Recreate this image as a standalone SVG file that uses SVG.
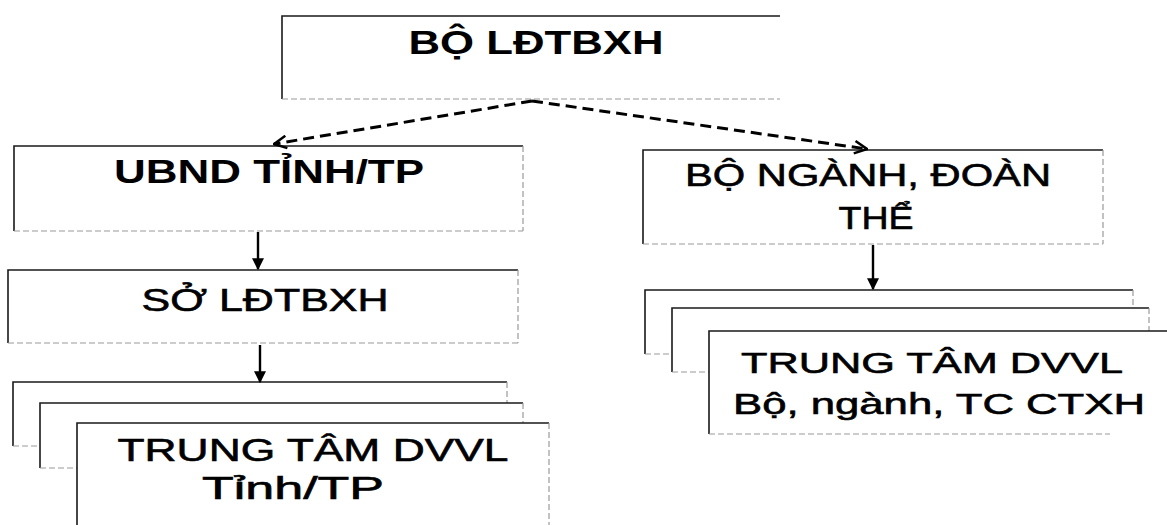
<svg xmlns="http://www.w3.org/2000/svg" width="1167" height="525" viewBox="0 0 1167 525">
<defs>
<style>
.box{fill:#fff;stroke:none}
.edge{fill:none;stroke:#1a1a1a;stroke-width:1.6}
.faint{fill:none;stroke:#9a9a9a;stroke-width:1.2;stroke-dasharray:6 3}
.b{font-family:"Liberation Sans",Arial,sans-serif;font-weight:bold;fill:#000;text-anchor:middle}
.r{font-family:"Liberation Sans",Arial,sans-serif;font-weight:normal;fill:#000;stroke:#000;stroke-width:0.6;text-anchor:middle}
.solid{stroke:#000;stroke-width:2.4;fill:none}
.dash{stroke:#000;stroke-width:3;fill:none;stroke-dasharray:11 6}
</style>
<marker id="tri" viewBox="0 0 10 10" refX="9" refY="5" markerWidth="5" markerHeight="5" markerUnits="strokeWidth" orient="auto">
<path d="M0,0 L10,5 L0,10 Z" fill="#000"/>
</marker>
<marker id="chev" viewBox="0 0 12 12" refX="11" refY="6" markerWidth="5" markerHeight="5" markerUnits="strokeWidth" orient="auto">
<path d="M1,1 L11,6 L1,11" fill="none" stroke="#000" stroke-width="2"/>
</marker>
</defs>
<rect width="1167" height="525" fill="#fff"/>

<g id="node-bo-ldtbxh">
<rect class="box" x="282" y="16" width="498" height="83"/>
<path class="edge" d="M282,99 L282,16 L780,16"/>
<path class="faint" d="M282,99 L780,99"/>
<text class="b" x="536" y="54" font-size="34" textLength="255" lengthAdjust="spacingAndGlyphs">BỘ LĐTBXH</text>
</g>

<g id="node-ubnd">
<rect class="box" x="14" y="146" width="509" height="85"/>
<path class="edge" d="M14,231 L14,146 L523,146"/>
<path class="faint" d="M14,231 L523,231 M523,146 L523,231"/>
<text class="b" x="269" y="183" font-size="34" textLength="310" lengthAdjust="spacingAndGlyphs">UBND TỈNH/TP</text>
</g>

<g id="node-so-ldtbxh">
<rect class="box" x="8" y="270" width="510" height="73"/>
<path class="edge" d="M8,343 L8,270 L518,270"/>
<path class="faint" d="M8,343 L518,343 M518,270 L518,343"/>
<text class="r" x="265" y="311" font-size="31" textLength="247" lengthAdjust="spacingAndGlyphs">SỞ LĐTBXH</text>
</g>

<g id="node-trung-tam-tinh">
<rect class="box" x="13" y="382" width="494" height="64"/>
<path class="edge" d="M13,446 L13,382 L507,382"/>
<path class="faint" d="M507,382 L507,446 M13,446 L40,446"/>
<rect class="box" x="40" y="403" width="483" height="65"/>
<path class="edge" d="M40,468 L40,403 L523,403"/>
<path class="faint" d="M523,403 L523,468 M40,468 L77,468"/>
<rect class="box" x="77" y="423" width="472" height="110"/>
<path class="edge" d="M77,530 L77,423 L549,423"/>
<path class="faint" d="M549,423 L549,530"/>
<text class="r" x="313" y="461" font-size="32" textLength="391" lengthAdjust="spacingAndGlyphs">TRUNG TÂM DVVL</text>
<text class="r" x="293" y="499" font-size="32" textLength="182" lengthAdjust="spacingAndGlyphs">Tỉnh/TP</text>
</g>

<g id="node-bo-nganh">
<rect class="box" x="643" y="150" width="460" height="94"/>
<path class="edge" d="M643,244 L643,150 L1103,150"/>
<path class="faint" d="M643,244 L1103,244 M1103,150 L1103,244"/>
<text class="r" x="868" y="186" font-size="31" textLength="366" lengthAdjust="spacingAndGlyphs">BỘ NGÀNH, ĐOÀN</text>
<text class="r" x="876" y="229" font-size="31" textLength="75" lengthAdjust="spacingAndGlyphs">THỂ</text>
</g>

<g id="node-trung-tam-bo">
<rect class="box" x="645" y="290" width="488" height="64"/>
<path class="edge" d="M645,354 L645,290 L1133,290"/>
<path class="faint" d="M1133,290 L1133,354 M645,354 L672,354"/>
<rect class="box" x="672" y="308" width="477" height="64"/>
<path class="edge" d="M672,372 L672,308 L1149,308"/>
<path class="faint" d="M1149,308 L1149,372 M672,372 L709,372"/>
<rect class="box" x="709" y="331" width="470" height="103"/>
<path class="edge" d="M709,434 L709,331 L1170,331"/>
<path class="faint" d="M709,434 L1110,434"/>
<text class="r" x="932" y="373" font-size="30" textLength="382" lengthAdjust="spacingAndGlyphs">TRUNG TÂM DVVL</text>
<text class="r" x="939" y="414" font-size="30" textLength="412" lengthAdjust="spacingAndGlyphs">Bộ, ngành, TC CTXH</text>
</g>

<g id="connectors">
<path class="dash" d="M532,101 L274,144" marker-end="url(#chev)"/>
<path class="dash" d="M532,101 L867,149" marker-end="url(#chev)"/>
<path class="solid" d="M258,232 L258,269" marker-end="url(#tri)"/>
<path class="solid" d="M260,345 L260,382" marker-end="url(#tri)"/>
<path class="solid" d="M873,245 L873,289" marker-end="url(#tri)"/>
</g>
</svg>
